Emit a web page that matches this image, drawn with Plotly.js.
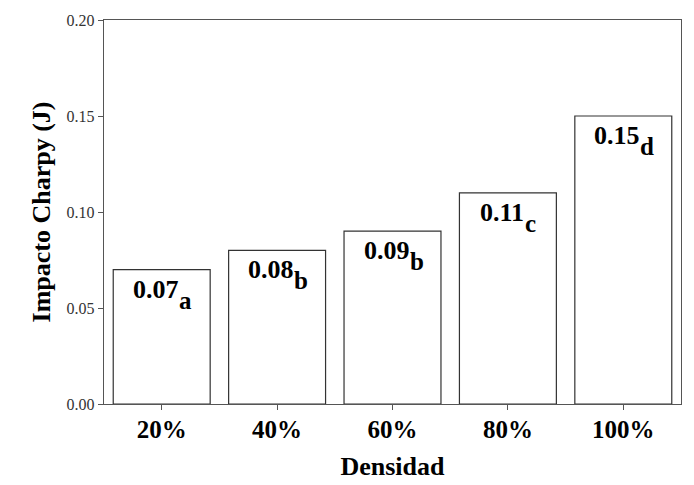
<!DOCTYPE html>
<html>
<head>
<meta charset="utf-8">
<script src="https://cdn.plot.ly/plotly-3.0.1.min.js"></script>
<style>html,body{margin:0;padding:0;background:#fff;}#chart{width:694px;height:485px;}</style>
</head>
<body>
<div id="chart"></div>
<script>
const categories = ["20%", "40%", "60%", "80%", "100%"];
const values = [0.07, 0.08, 0.09, 0.11, 0.15];
const valueLabels = ["0.07", "0.08", "0.09", "0.11", "0.15"];
const groupLetters = ["a", "b", "b", "c", "d"];
const yTickVals = [0, 0.05, 0.10, 0.15, 0.20];
const yTickText = ["0.00", "0.05", "0.10", "0.15", "0.20"];

const serif = "Liberation Serif";

const trace = {
  type: "bar",
  x: categories,
  y: values,
  marker: {color: "#ffffff", line: {color: "#333333", width: 1.2}},
  hoverinfo: "skip"
};

const numAnn = categories.map((c, i) => ({
  x: c, y: values[i], xref: "x", yref: "y",
  text: "<b>" + valueLabels[i] + "</b>",
  showarrow: false, yanchor: "top", xanchor: "center", yshift: -3, xshift: -6,
  font: {family: serif, size: 26, color: "#000"}
}));
const letterAnn = categories.map((c, i) => ({
  x: c, y: values[i], xref: "x", yref: "y",
  text: "<b>" + groupLetters[i] + "</b>",
  showarrow: false, yanchor: "top", xanchor: "left", yshift: -15, xshift: 15,
  font: {family: serif, size: 25, color: "#000"}
}));

const layout = {
  width: 694, height: 485,
  margin: {l: 104, r: 13, t: 20, b: 81},
  paper_bgcolor: "#fff", plot_bgcolor: "#fff",
  bargap: 0.16,
  showlegend: false,
  font: {family: serif},
  xaxis: {
    type: "category",
    showline: true, linecolor: "#555", linewidth: 1.2, mirror: true,
    ticks: "outside", ticklen: 5, tickcolor: "#555",
    ticklabelstandoff: -2,
    tickfont: {family: serif, size: 25, color: "#000", weight: "bold"},
    title: {text: "<b>Densidad</b>", font: {family: serif, size: 26, color: "#000"}, standoff: 14},
    showgrid: false, zeroline: false
  },
  yaxis: {
    range: [0, 0.20],
    tickvals: yTickVals, ticktext: yTickText,
    showline: true, linecolor: "#555", linewidth: 1.2, mirror: true,
    ticks: "outside", ticklen: 5, tickcolor: "#555",
    tickfont: {family: serif, size: 16, color: "#333"},
    title: {text: "<b>Impacto Charpy (J)</b>", font: {family: serif, size: 26, color: "#000"}, standoff: 8},
    showgrid: false, zeroline: false
  },
  annotations: numAnn.concat(letterAnn)
};

Plotly.newPlot("chart", [trace], layout, {staticPlot: true, displayModeBar: false});
</script>
</body>
</html>
